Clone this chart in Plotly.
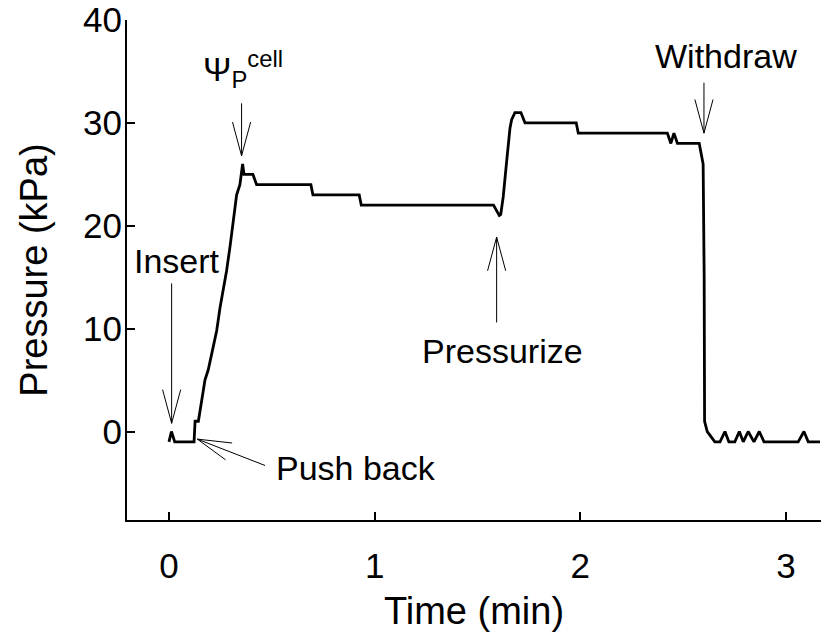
import math
import plotly.graph_objects as go

# ---- data ----
time_min = [0.000, 0.012, 0.028, 0.122, 0.127, 0.143, 0.159, 0.175, 0.191, 0.207,
            0.232, 0.248, 0.280, 0.297, 0.313, 0.329, 0.345, 0.358, 0.365, 0.408,
            0.426, 0.690, 0.700, 0.925, 0.935, 1.578, 1.592, 1.606, 1.613, 1.625,
            1.642, 1.658, 1.666, 1.682, 1.711, 1.731, 1.980, 1.990, 2.423, 2.440,
            2.455, 2.472, 2.578, 2.597, 2.602, 2.604, 2.617, 2.654, 2.679, 2.703,
            2.722, 2.751, 2.773, 2.792, 2.816, 2.844, 2.870, 2.893, 3.059, 3.087,
            3.108, 3.165]
pressure_kpa = [-1, 0, -1, -1, 1, 1, 3, 5, 6, 7.6,
                9.8, 12, 15.6, 18, 20.5, 23, 24, 26, 25, 25,
                24, 24, 23, 23, 22, 22, 21.5, 21, 21.1, 22.8,
                26.3, 29.5, 30.3, 31, 31, 30, 30, 29, 29, 28,
                29, 28, 28, 26, 15, 1, 0, -1, -1, 0,
                -1, -1, 0, -1, 0, -1, 0, -1, -1, 0,
                -1, -1]

x_ticks = [0, 1, 2, 3]
y_ticks = [0, 10, 20, 30, 40]
x_range = [-0.204, 3.17]
y_range = [-8.6, 40]

# annotation labels: (text, x, y) in data units
labels = [
    ("Insert", 0.04, 16.6),
    ("Ψ<sub>P</sub><sup>cell</sup>", 0.36, 35.2),
    ("Pressurize", 1.62, 7.8),
    ("Push back", 0.91, -3.5),
    ("Withdraw", 2.71, 36.5),
]
# arrows: (tip_x, tip_y, tail_x, tail_y) in data units
arrows = [
    (0.013, 0.8, 0.013, 14.4),
    (0.353, 26.8, 0.353, 31.9),
    (1.593, 18.9, 1.593, 10.6),
    (0.138, -0.74, 0.467, -3.3),
    (2.601, 29.0, 2.601, 33.9),
]

# ---- layout constants ----
W, H = 821, 644
ML, MR, MT, MB = 127, 0, 18, 124
FONT = "Liberation Sans, Arial, sans-serif"
FS_ANN = 34
FS_TICK = 35
FS_TITLE = 38

px_x = (W - ML - MR) / (x_range[1] - x_range[0])
px_y = (H - MT - MB) / (y_range[1] - y_range[0])

fig = go.Figure()
fig.add_trace(go.Scatter(x=time_min, y=pressure_kpa, mode="lines",
                         line=dict(color="black", width=2.8),
                         hoverinfo="x+y", showlegend=False))

shapes = []
ARM = 35.0
HALF = math.radians(15)
for tx, ty, sx, sy in arrows:
    shapes.append(dict(type="line", xref="x", yref="y", x0=sx, y0=sy, x1=tx, y1=ty,
                       line=dict(color="black", width=1)))
    dxp = (sx - tx) * px_x
    dyp = (sy - ty) * px_y
    ang = math.atan2(dyp, dxp)
    for s in (-1, 1):
        a = ang + s * HALF
        ex = tx + ARM * math.cos(a) / px_x
        ey = ty + ARM * math.sin(a) / px_y
        shapes.append(dict(type="line", xref="x", yref="y", x0=tx, y0=ty, x1=ex, y1=ey,
                           line=dict(color="black", width=1)))

annotations = [dict(text=t, x=x, y=y, xref="x", yref="y", showarrow=False,
                    font=dict(family=FONT, size=FS_ANN, color="black"))
               for t, x, y in labels]

axis_common = dict(showgrid=False, zeroline=False, showline=True, linecolor="black",
                   linewidth=2, ticks="inside", ticklen=8, tickwidth=2, tickcolor="black",
                   ticklabeloverflow="allow",
                   tickfont=dict(family=FONT, size=FS_TICK, color="black"))

fig.update_layout(
    width=W, height=H,
    margin=dict(l=ML, r=MR, t=MT, b=MB, pad=0),
    paper_bgcolor="white", plot_bgcolor="white",
    xaxis=dict(range=x_range, tickvals=x_ticks, ticklabelstandoff=14,
               title=dict(text="Time (min)", font=dict(family=FONT, size=FS_TITLE, color="black"),
                          standoff=13),
               **axis_common),
    yaxis=dict(range=y_range, tickvals=y_ticks, ticklabelstandoff=-4,
               title=dict(text="Pressure (kPa)", font=dict(family=FONT, size=FS_TITLE, color="black"),
                          standoff=24),
               **axis_common),
    shapes=shapes,
    annotations=annotations,
)

fig.write_html("out.html")
